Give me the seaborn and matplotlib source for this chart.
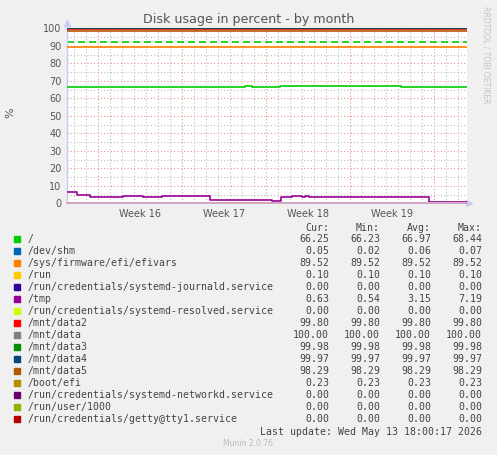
import numpy as np
import pandas as pd
import matplotlib
matplotlib.use('Agg')
import matplotlib.pyplot as plt
import matplotlib.dates as mdates
from matplotlib.patches import Rectangle
import seaborn as sns

# --- data ---
graph_start = pd.Timestamp('2026-04-10 10:00')
graph_end = pd.Timestamp('2026-05-13 18:00')

names = ['/', '/dev/shm', '/sys/firmware/efi/efivars', '/run',
         '/run/credentials/systemd-journald.service', '/tmp',
         '/run/credentials/systemd-resolved.service', '/mnt/data2', '/mnt/data',
         '/mnt/data3', '/mnt/data4', '/mnt/data5', '/boot/efi',
         '/run/credentials/systemd-networkd.service', '/run/user/1000',
         '/run/credentials/getty@tty1.service']
colors = ['#00CC00', '#0066B3', '#FF8000', '#FFCC00', '#330099', '#990099',
          '#CCFF00', '#FF0000', '#808080', '#008F00', '#00487D', '#B35A00',
          '#B38F00', '#6B006B', '#8FB300', '#B30000']
cur_vals = [66.25, 0.05, 89.52, 0.10, 0.00, 0.63, 0.00, 99.80, 100.00, 99.98,
            99.97, 98.29, 0.23, 0.00, 0.00, 0.00]
min_vals = [66.23, 0.02, 89.52, 0.10, 0.00, 0.54, 0.00, 99.80, 100.00, 99.98,
            99.97, 98.29, 0.23, 0.00, 0.00, 0.00]
avg_vals = [66.97, 0.06, 89.52, 0.10, 0.00, 3.15, 0.00, 99.80, 100.00, 99.98,
            99.97, 98.29, 0.23, 0.00, 0.00, 0.00]
max_vals = [68.44, 0.07, 89.52, 0.10, 0.00, 7.19, 0.00, 99.80, 100.00, 99.98,
            99.97, 98.29, 0.23, 0.00, 0.00, 0.00]

# series that move over the month (step changes)
root_times = ['2026-04-10 10:00', '2026-04-25 06:00', '2026-04-25 20:00',
              '2026-04-28 04:00', '2026-05-02 22:00', '2026-05-04 08:00',
              '2026-05-04 20:00', '2026-05-05 16:00', '2026-05-08 06:00',
              '2026-05-13 18:00']
root_vals = [66.6, 67.3, 66.7, 67.3, 66.8, 67.3, 66.9, 67.2, 66.2, 66.2]

tmp_times = ['2026-04-10 10:00', '2026-04-11 06:00', '2026-04-12 08:00',
             '2026-04-15 02:00', '2026-04-16 18:00', '2026-04-18 08:00',
             '2026-04-22 08:00', '2026-04-27 12:00', '2026-04-28 06:00',
             '2026-04-29 04:00', '2026-04-30 00:00', '2026-04-30 06:00',
             '2026-04-30 14:00', '2026-05-10 14:00', '2026-05-13 18:00']
tmp_vals = [6.6, 4.7, 3.6, 4.2, 3.6, 4.2, 1.7, 1.3, 3.6, 4.2, 3.6, 4.2, 3.6,
            0.6, 0.6]

warn_level = 92

week_labels = ['Week 16', 'Week 17', 'Week 18', 'Week 19']
week_starts = ['2026-04-13', '2026-04-20', '2026-04-27', '2026-05-04']

title = 'Disk usage in percent - by month'
last_update = 'Last update: Wed May 13 18:00:17 2026'

# --- figure ---
W, H = 497, 455
BG = '#F0F0F0'
TXT = '#555555'

sns.set_style('white')
plt.rcParams['font.family'] = ['DejaVu Sans']

fig = plt.figure(figsize=(W / 100, H / 100), dpi=100, facecolor=BG)


def px(x):
    return x / W


def py(y):
    return 1 - y / H


ax = fig.add_axes([px(67), py(203.3), px(400), 175 / H])
ax.set_facecolor('white')

for i, name in enumerate(names):
    if name == '/':
        t = pd.to_datetime(root_times)
        v = root_vals
    elif name == '/tmp':
        t = pd.to_datetime(tmp_times)
        v = tmp_vals
    else:
        t = pd.to_datetime([graph_start, graph_end])
        v = [cur_vals[i], cur_vals[i]]
    sns.lineplot(x=t, y=v, ax=ax, color=colors[i], lw=1.2,
                 drawstyle='steps-post', zorder=3 + i * 0.01)

ax.axhline(warn_level, color=colors[0], lw=1.2, ls=(0, (4.2, 2.4)), zorder=2.5)

ax.set_xlim(graph_start, graph_end)
ax.set_ylim(0, 100)

# grids: minor grey dotted, major red dotted
ax.yaxis.set_major_locator(plt.MultipleLocator(10))
ax.yaxis.set_minor_locator(plt.MultipleLocator(5))
ax.xaxis.set_major_locator(mdates.WeekdayLocator(byweekday=mdates.MO))
ax.xaxis.set_minor_locator(mdates.DayLocator())
ax.grid(which='minor', color='#BDBDBD', lw=0.8, ls=(0, (1, 2)), zorder=1)
ax.grid(which='major', color='#EE9090', lw=0.8, ls=(0, (1, 2)), zorder=1.5)
ax.set_axisbelow(True)

ax.set_xticklabels([])
ax.tick_params(axis='both', which='both', length=0)
ax.tick_params(axis='y', labelsize=7, labelcolor=TXT, pad=4)

# week labels centred in each week
for lab, ws in zip(week_labels, week_starts):
    mid = pd.Timestamp(ws) + pd.Timedelta(days=3.5)
    ax.text(mdates.date2num(mid), -3.5, lab, ha='center', va='top',
            fontsize=7, color=TXT)

for s in ['top', 'right']:
    ax.spines[s].set_visible(False)
ax.spines['left'].set_color('#C8CCEE')
ax.spines['left'].set_linewidth(1)
# bottom edge: zero-valued lines half clipped, looks pale mauve
ax.spines['bottom'].set_color('#CFA8C4')
ax.spines['bottom'].set_linewidth(1.4)
ax.spines['bottom'].set_zorder(10)
ax.plot(1.005, 0, '>', color='#C8CCEE', ms=4, transform=ax.transAxes, clip_on=False)
ax.plot(0, 1.03, '^', color='#C8CCEE', ms=4, transform=ax.transAxes, clip_on=False)

ax.set_xlabel('')
ax.set_ylabel('')

fig.text(px(248.5), py(19), title, ha='center', va='center', fontsize=9.1, color=TXT)
fig.text(px(10), py(113), '%', ha='center', va='center', rotation=90,
         fontsize=8, color=TXT)
fig.text(px(486), py(6), 'RRDTOOL / TOBI OETIKER', ha='center', va='top',
         rotation=-90, fontsize=5.5, color='#C4C4C4')

# --- legend table ---
mono = 'DejaVu Sans Mono'
fs = 7.1
col_x = [329, 380, 431, 482]
col_head = ['Cur:', 'Min:', 'Avg:', 'Max:']
for cx, h in zip(col_x, col_head):
    fig.text(px(cx), py(228), h, ha='right', va='center', family=mono,
             fontsize=fs, color='#444444')

for i, name in enumerate(names):
    yy = 239 + 12 * i
    fig.patches.append(Rectangle((px(14), py(yy + 3)), px(6), 6 / H,
                                 transform=fig.transFigure, color=colors[i]))
    fig.text(px(27), py(yy), name, ha='left', va='center', family=mono,
             fontsize=fs, color='#444444')
    for cx, vals in zip(col_x, [cur_vals, min_vals, avg_vals, max_vals]):
        fig.text(px(cx), py(yy), f'{vals[i]:.2f}', ha='right', va='center',
                 family=mono, fontsize=fs, color='#444444')

fig.text(px(482), py(432), last_update, ha='right', va='center', family=mono,
         fontsize=fs, color='#444444')
fig.text(px(248), py(444), 'Munin 2.0.76', ha='center', va='center',
         fontsize=5.5, color='#BBBBBB')

fig.savefig('out.png', dpi=100, facecolor=BG)
